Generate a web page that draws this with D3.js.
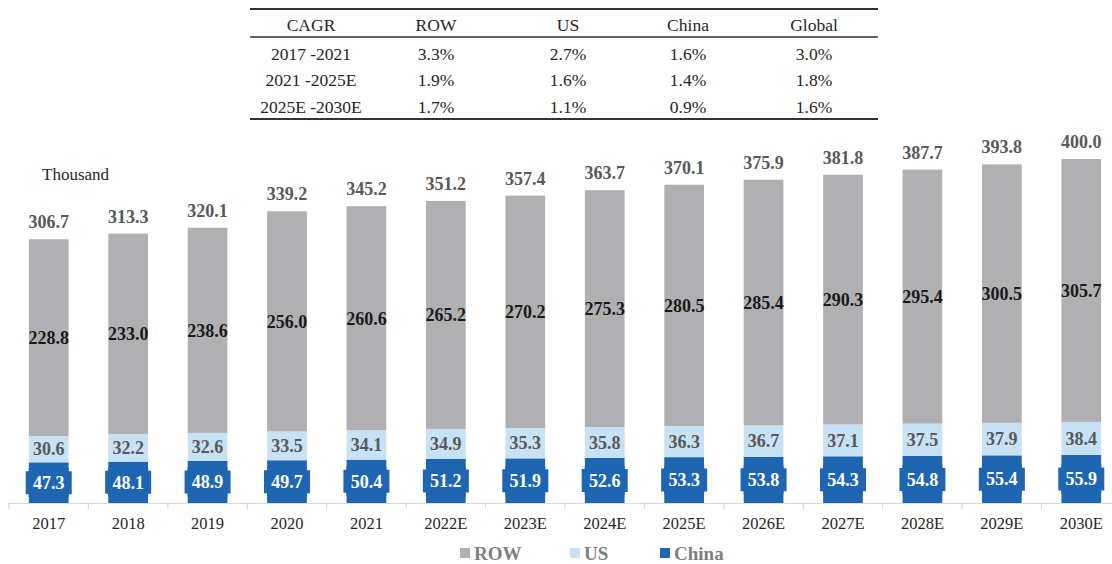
<!DOCTYPE html>
<html>
<head>
<meta charset="utf-8">
<script src="https://cdn.jsdelivr.net/npm/d3@7"></script>
<style>
  html, body { margin: 0; padding: 0; background: #fff; }
  svg { display: block; font-family: "Liberation Serif", "Times New Roman", serif; }
</style>
</head>
<body>
<svg id="chart"></svg>
<script>
// data
const years = ["2017", "2018", "2019", "2020", "2021", "2022E", "2023E", "2024E", "2025E", "2026E", "2027E", "2028E", "2029E", "2030E"];
const china = [47.3, 48.1, 48.9, 49.7, 50.4, 51.2, 51.9, 52.6, 53.3, 53.8, 54.3, 54.8, 55.4, 55.9];
const us = [30.6, 32.2, 32.6, 33.5, 34.1, 34.9, 35.3, 35.8, 36.3, 36.7, 37.1, 37.5, 37.9, 38.4];
const row = [228.8, 233.0, 238.6, 256.0, 260.6, 265.2, 270.2, 275.3, 280.5, 285.4, 290.3, 295.4, 300.5, 305.7];
const totals = [306.7, 313.3, 320.1, 339.2, 345.2, 351.2, 357.4, 363.7, 370.1, 375.9, 381.8, 387.7, 393.8, 400.0];

const cagrHeader = ["CAGR", "ROW", "US", "China", "Global"];
const cagrPeriods = ["2017 -2021", "2021 -2025E", "2025E -2030E"];
const cagrRow = ["3.3%", "1.9%", "1.7%"];
const cagrUS = ["2.7%", "1.6%", "1.1%"];
const cagrChina = ["1.6%", "1.4%", "0.9%"];
const cagrGlobal = ["3.0%", "1.8%", "1.6%"];

const series = ["ROW", "US", "China"];
const colors = { ROW: "#B0B0B3", US: "#C7E1F5", China: "#1E66B2" };

const width = 1112, height = 564;

const svg = d3.select("#chart")
  .attr("width", width)
  .attr("height", height)
  .attr("viewBox", [0, 0, width, height]);

// stack data
const data = years.map((y, i) => ({ year: y, China: china[i], US: us[i], ROW: row[i], total: totals[i] }));
const stacked = d3.stack().keys(["China", "US", "ROW"])(data);

const x = d3.scaleBand()
  .domain(years)
  .range([9, 1121])
  .paddingInner(0.5)
  .paddingOuter(0.25);

const y = d3.scaleLinear()
  .domain([0, 400])
  .range([503, 159]);

// bars
svg.append("g")
  .selectAll("g")
  .data(stacked)
  .join("g")
  .attr("fill", d => colors[d.key])
  .selectAll("rect")
  .data(d => d)
  .join("rect")
  .attr("x", d => x(d.data.year))
  .attr("y", d => y(d[1]))
  .attr("width", x.bandwidth())
  .attr("height", d => y(d[0]) - y(d[1]));

// axis line + ticks between categories
const step = x.step();
const x0 = x.range()[0];
const axis = svg.append("g").attr("stroke", "#D9D9D9").attr("stroke-width", 1.2);
axis.append("line")
  .attr("x1", x0).attr("x2", width)
  .attr("y1", y(0) + 0.5).attr("y2", y(0) + 0.5);
axis.selectAll("line.tick")
  .data(d3.range(years.length + 1))
  .join("line")
  .attr("class", "tick")
  .attr("x1", k => x0 + k * step).attr("x2", k => x0 + k * step)
  .attr("y1", y(0)).attr("y2", y(0) + 6);

svg.append("g")
  .attr("font-size", 16.5)
  .attr("fill", "#262626")
  .attr("text-anchor", "middle")
  .selectAll("text")
  .data(years)
  .join("text")
  .attr("x", d => x(d) + x.bandwidth() / 2)
  .attr("y", 529)
  .text(d => d);

const cx = d => x(d.data.year) + x.bandwidth() / 2;

// ROW labels
svg.append("g")
  .attr("font-size", 18).attr("font-weight", "bold")
  .attr("fill", "#1a1a1a").attr("text-anchor", "middle")
  .selectAll("text")
  .data(stacked[2])
  .join("text")
  .attr("x", cx)
  .attr("y", d => (y(d[0]) + y(d[1])) / 2)
  .attr("dy", "0.35em")
  .text(d => d.data.ROW.toFixed(1));

// US labels
svg.append("g")
  .attr("font-size", 18).attr("font-weight", "bold")
  .attr("fill", "#595959").attr("text-anchor", "middle")
  .selectAll("text")
  .data(stacked[1])
  .join("text")
  .attr("x", cx)
  .attr("y", d => (y(d[0]) + y(d[1])) / 2)
  .attr("dy", "0.35em")
  .text(d => d.data.US.toFixed(1));

// China labels with boxes (notched corners)
const bw = 23, bh = 14.5, c = 3;
const boxPath = `M${-bw + c},${-bh}H${bw - c}V${-bh + c}H${bw}V${bh - c}H${bw - c}V${bh}H${-bw + c}V${bh - c}H${-bw}V${-bh + c}H${-bw + c}Z`;

const chinaLab = svg.append("g")
  .selectAll("g")
  .data(stacked[0])
  .join("g")
  .attr("transform", d => `translate(${cx(d)},${(y(d[0]) + y(d[1])) / 2})`);

chinaLab.append("path")
  .attr("d", boxPath)
  .attr("fill", colors.China);

chinaLab.append("text")
  .attr("font-size", 18).attr("font-weight", "bold")
  .attr("fill", "#fff").attr("text-anchor", "middle")
  .attr("dy", "0.35em")
  .text(d => d.data.China.toFixed(1));

// totals
svg.append("g")
  .attr("font-size", 18).attr("font-weight", "bold")
  .attr("fill", "#595959").attr("text-anchor", "middle")
  .selectAll("text")
  .data(data)
  .join("text")
  .attr("x", d => x(d.year) + x.bandwidth() / 2)
  .attr("y", d => y(d.total) - 11)
  .text(d => d.total.toFixed(1));

// unit
svg.append("text")
  .attr("x", 42).attr("y", 180)
  .attr("font-size", 17)
  .attr("fill", "#262626")
  .text("Thousand");

// legend
const legendX = [460, 570, 660];
const legend = svg.append("g")
  .selectAll("g")
  .data(series)
  .join("g")
  .attr("transform", (d, i) => `translate(${legendX[i]},553)`);
legend.append("rect")
  .attr("x", 0).attr("y", -5)
  .attr("width", 10).attr("height", 10)
  .attr("fill", d => colors[d]);
legend.append("text")
  .attr("x", 14).attr("dy", "0.35em")
  .attr("font-size", 19).attr("font-weight", "bold")
  .attr("fill", "#7F7F7F")
  .text(d => d);

// CAGR table
const colX = [311, 436, 568, 688, 814];
const rowY = [25, 54, 80, 107];
const table = svg.append("g").attr("font-size", 17.5).attr("fill", "#262626").attr("text-anchor", "middle");
const tableRows = [cagrHeader].concat(cagrPeriods.map((p, i) => [p, cagrRow[i], cagrUS[i], cagrChina[i], cagrGlobal[i]]));
table.selectAll("g")
  .data(tableRows)
  .join("g")
  .attr("transform", (d, i) => `translate(0,${rowY[i]})`)
  .selectAll("text")
  .data(d => d)
  .join("text")
  .attr("x", (d, j) => colX[j])
  .attr("dy", "0.35em")
  .text(d => d);

const rules = svg.append("g").attr("stroke", "#333");
rules.append("line").attr("x1", 250).attr("x2", 878).attr("y1", 9).attr("y2", 9).attr("stroke-width", 2);
rules.append("line").attr("x1", 250).attr("x2", 878).attr("y1", 37).attr("y2", 37).attr("stroke-width", 1.5);
rules.append("line").attr("x1", 250).attr("x2", 878).attr("y1", 119).attr("y2", 119).attr("stroke-width", 2);
</script>
</body>
</html>
